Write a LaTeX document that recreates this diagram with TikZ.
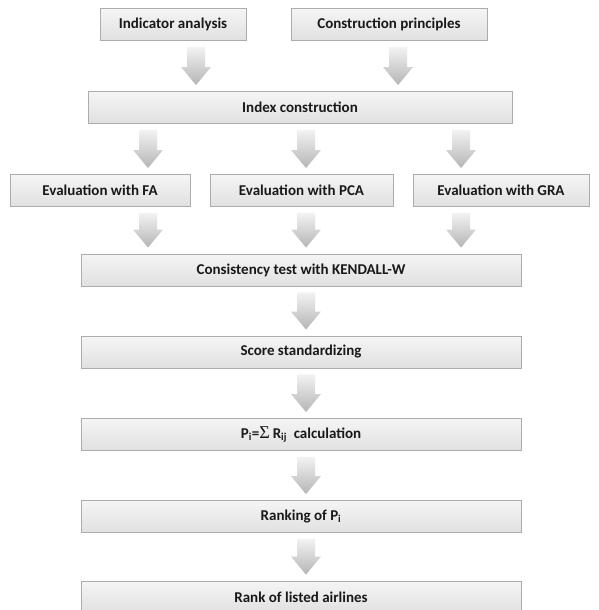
\documentclass[tikz,border=0pt]{standalone}
\usepackage{fontspec}
\setmainfont{Carlito}
\usetikzlibrary{calc}
\tikzset{
  box/.style={draw=gray!65, line width=0.9pt, top color=gray!8, bottom color=gray!24,
    minimum height=32pt, inner sep=0pt, font=\fontsize{15}{17}\selectfont\bfseries,
    text=black!90},
  blockarrow/.style={draw=none, top color=gray!10, bottom color=gray!58}
}
% \barrow{x}{from}{to}
\newcommand{\barrow}[3]{%
  \path[blockarrow] let \p1=(#2.south), \p2=(#3.north) in
    (#1-9,\y1-6) -- (#1+9,\y1-6) -- (#1+9,\y2+24) -- (#1+15,\y2+24)
    -- (#1,\y2+6) -- (#1-15,\y2+24) -- (#1-9,\y2+24) -- cycle;}
\begin{document}
\begin{tikzpicture}[x=1pt,y=-1pt]
\useasboundingbox (0,0) rectangle (598,610);
\fill[white] (0,0) rectangle (598,610);
\node[box, minimum width=146pt] (ind) at (173,24.5) {Indicator analysis};
\node[box, minimum width=196pt] (con) at (389,24.5) {Construction principles};
\node[box, minimum width=424pt] (idx) at (300,107.5) {Index construction};
\node[box, minimum width=180pt] (fa) at (100,190.5) {Evaluation with FA};
\node[box, minimum width=183pt] (pca) at (301.5,190.5) {Evaluation with PCA};
\node[box, minimum width=176pt] (gra) at (501,190.5) {Evaluation with GRA};
\node[box, minimum width=440pt] (ken) at (301,270) {Consistency test with KENDALL-W};
\node[box, minimum width=440pt] (std) at (301,352) {Score standardizing};
\node[box, minimum width=440pt] (pc) at (301,434.5)
  {P\textsubscript{i}={\fontspec{Liberation Serif}\mdseries\fontsize{18}{18}\selectfont Σ\,}R\textsubscript{ij}\ \ calculation};
\node[box, minimum width=440pt] (rk) at (301,516.5) {Ranking of P\textsubscript{i}};
\node[box, minimum width=440pt] (ra) at (301,597) {Rank of listed airlines};
\barrow{196}{ind}{idx}
\barrow{398}{con}{idx}
\barrow{148}{idx}{fa}
\barrow{306}{idx}{pca}
\barrow{461}{idx}{gra}
\barrow{148}{fa}{ken}
\barrow{306}{pca}{ken}
\barrow{461}{gra}{ken}
\barrow{306}{ken}{std}
\barrow{306}{std}{pc}
\barrow{306}{pc}{rk}
\barrow{306}{rk}{ra}
\end{tikzpicture}
\end{document}
